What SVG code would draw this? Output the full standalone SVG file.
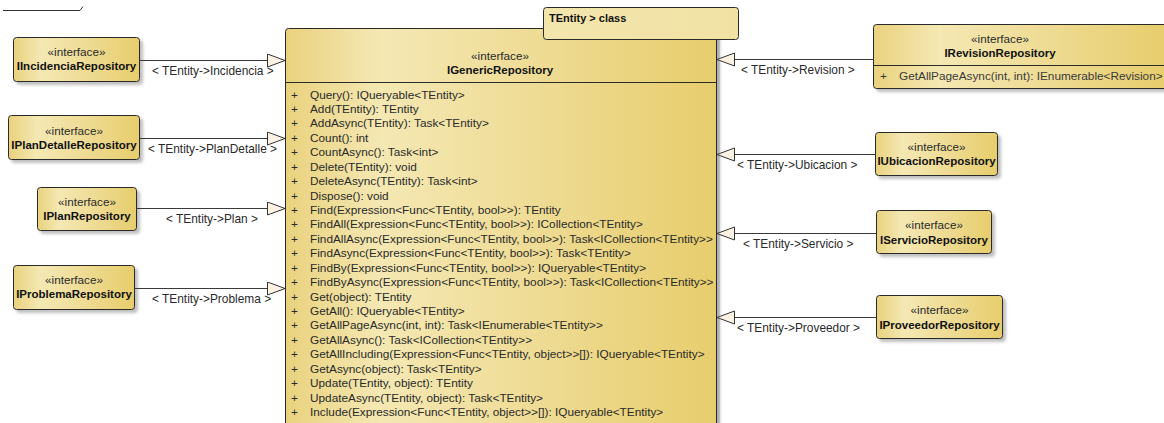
<svg xmlns="http://www.w3.org/2000/svg" width="1164" height="423" viewBox="0 0 1164 423">
  <defs>
    <linearGradient id="gold" x1="0" y1="0" x2="1" y2="0">
      <stop offset="0" stop-color="#e9d27e"/>
      <stop offset="0.22" stop-color="#f4e8b3"/>
      <stop offset="0.6" stop-color="#eedb93"/>
      <stop offset="1" stop-color="#e7cd6c"/>
    </linearGradient>
    <linearGradient id="pale" x1="0" y1="0" x2="1" y2="0">
      <stop offset="0" stop-color="#f3e6ad"/>
      <stop offset="1" stop-color="#f1e2a4"/>
    </linearGradient>
    <filter id="shadow" x="-10%" y="-10%" width="130%" height="140%">
      <feDropShadow dx="3" dy="3" stdDeviation="1.5" flood-color="#8a8a8a" flood-opacity="0.55"/>
    </filter>
    <marker id="realize" markerUnits="userSpaceOnUse" markerWidth="20" markerHeight="16" refX="18" refY="7" orient="auto">
      <path d="M0.5,0.5 L18,7 L0.5,13.5 Z" fill="#fcf2e4" stroke="#333" stroke-width="1"/>
    </marker>
    <style>
      text { font-family: "Liberation Sans", Arial, sans-serif; fill: #2a2a2a; }
      .node { fill: url(#gold); stroke: #2b2b2b; stroke-width: 1; filter: url(#shadow); }
      .st { font-size: 11.7px; text-anchor: middle; }
      .nm { font-size: 11.5px; font-weight: bold; text-anchor: middle; fill: #111; }
      .op { font-size: 11.8px; fill: #3a3a3a; }
      .lbl { font-size: 11.9px; fill: #2a2a2a; }
      .edge { stroke: #3a3a3a; stroke-width: 1; fill: none; marker-end: url(#realize); }
      .sep { stroke: #2b2b2b; stroke-width: 1; }
    </style>
  </defs>

  <!-- frame corner -->
  <path d="M3,10.5 H80 L83,6.5" fill="none" stroke="#333" stroke-width="1"/>

  <!-- generic repository interface -->
  <g id="IGenericRepository">
    <rect x="716" y="30" width="4" height="400" fill="#d3d7df"/>
    <path class="node" d="M285.5,438 V31.5 Q285.5,28.5 288.5,28.5 H713 Q716.5,28.5 716.5,31.5 V438 Z"/>
    <line class="sep" x1="285.5" y1="82.5" x2="716.5" y2="82.5"/>
    <text class="st" x="500" y="60">«interface»</text>
    <text class="nm" x="500" y="74">IGenericRepository</text>
    <g class="op">
      <text x="291" y="98.5">+</text><text x="310" y="98.5">Query(): IQueryable&lt;TEntity&gt;</text>
      <text x="291" y="113">+</text><text x="310" y="113">Add(TEntity): TEntity</text>
      <text x="291" y="127.4">+</text><text x="310" y="127.4">AddAsync(TEntity): Task&lt;TEntity&gt;</text>
      <text x="291" y="141.8">+</text><text x="310" y="141.8">Count(): int</text>
      <text x="291" y="156.2">+</text><text x="310" y="156.2">CountAsync(): Task&lt;int&gt;</text>
      <text x="291" y="170.6">+</text><text x="310" y="170.6">Delete(TEntity): void</text>
      <text x="291" y="185">+</text><text x="310" y="185">DeleteAsync(TEntity): Task&lt;int&gt;</text>
      <text x="291" y="199.5">+</text><text x="310" y="199.5">Dispose(): void</text>
      <text x="291" y="214">+</text><text x="310" y="214">Find(Expression&lt;Func&lt;TEntity, bool&gt;&gt;): TEntity</text>
      <text x="291" y="228.4">+</text><text x="310" y="228.4">FindAll(Expression&lt;Func&lt;TEntity, bool&gt;&gt;): ICollection&lt;TEntity&gt;</text>
      <text x="291" y="242.8">+</text><text x="310" y="242.8">FindAllAsync(Expression&lt;Func&lt;TEntity, bool&gt;&gt;): Task&lt;ICollection&lt;TEntity&gt;&gt;</text>
      <text x="291" y="257.2">+</text><text x="310" y="257.2">FindAsync(Expression&lt;Func&lt;TEntity, bool&gt;&gt;): Task&lt;TEntity&gt;</text>
      <text x="291" y="271.6">+</text><text x="310" y="271.6">FindBy(Expression&lt;Func&lt;TEntity, bool&gt;&gt;): IQueryable&lt;TEntity&gt;</text>
      <text x="291" y="286">+</text><text x="310" y="286">FindByAsync(Expression&lt;Func&lt;TEntity, bool&gt;&gt;): Task&lt;ICollection&lt;TEntity&gt;&gt;</text>
      <text x="291" y="300.5">+</text><text x="310" y="300.5">Get(object): TEntity</text>
      <text x="291" y="315">+</text><text x="310" y="315">GetAll(): IQueryable&lt;TEntity&gt;</text>
      <text x="291" y="329.4">+</text><text x="310" y="329.4">GetAllPageAsync(int, int): Task&lt;IEnumerable&lt;TEntity&gt;&gt;</text>
      <text x="291" y="343.8">+</text><text x="310" y="343.8">GetAllAsync(): Task&lt;ICollection&lt;TEntity&gt;&gt;</text>
      <text x="291" y="358.2">+</text><text x="310" y="358.2">GetAllIncluding(Expression&lt;Func&lt;TEntity, object&gt;&gt;[]): IQueryable&lt;TEntity&gt;</text>
      <text x="291" y="372.6">+</text><text x="310" y="372.6">GetAsync(object): Task&lt;TEntity&gt;</text>
      <text x="291" y="387">+</text><text x="310" y="387">Update(TEntity, object): TEntity</text>
      <text x="291" y="401.5">+</text><text x="310" y="401.5">UpdateAsync(TEntity, object): Task&lt;TEntity&gt;</text>
      <text x="291" y="416">+</text><text x="310" y="416">Include(Expression&lt;Func&lt;TEntity, object&gt;&gt;[]): IQueryable&lt;TEntity&gt;</text>
    </g>
  </g>

  <!-- template parameter box -->
  <g id="TemplateParameter">
    <rect x="543.5" y="7.5" width="195" height="32" rx="3" fill="url(#pale)" stroke="#2b2b2b" stroke-width="1"/>
    <text x="549" y="21.5" style="font-size:11px;font-weight:bold;fill:#111">TEntity &gt; class</text>
  </g>

  <!-- left-hand repositories -->
  <g id="IIncidenciaRepository">
    <rect class="node" x="13.5" y="37.5" width="126" height="44" rx="3"/>
    <text class="st" x="76.5" y="56">«interface»</text>
    <text class="nm" x="76.5" y="70">IIncidenciaRepository</text>
  </g>
  <g id="IPlanDetalleRepository">
    <rect class="node" x="8.5" y="115.5" width="131" height="44" rx="3"/>
    <text class="st" x="74" y="135">«interface»</text>
    <text class="nm" x="74" y="148.5">IPlanDetalleRepository</text>
  </g>
  <g id="IPlanRepository">
    <rect class="node" x="37.5" y="187.5" width="99" height="43" rx="3"/>
    <text class="st" x="87" y="206">«interface»</text>
    <text class="nm" x="87" y="220">IPlanRepository</text>
  </g>
  <g id="IProblemaRepository">
    <rect class="node" x="13.5" y="265.5" width="121" height="44" rx="3"/>
    <text class="st" x="74" y="284">«interface»</text>
    <text class="nm" x="74" y="298">IProblemaRepository</text>
  </g>

  <!-- right-hand repositories -->
  <g id="IRevisionRepository">
    <rect class="node" x="873.5" y="24.5" width="294" height="64" rx="3"/>
    <line class="sep" x1="873.5" y1="65.5" x2="1167" y2="65.5"/>
    <text class="st" x="1000" y="42.5">«interface»</text>
    <text class="nm" x="1000" y="57">IRevisionRepository</text>
    <text class="op" x="880" y="80">+</text>
    <text class="op" x="899" y="80">GetAllPageAsync(int, int): IEnumerable&lt;Revision&gt;</text>
  </g>
  <g id="IUbicacionRepository">
    <rect class="node" x="875.5" y="132.5" width="122" height="43" rx="3"/>
    <text class="st" x="936.5" y="150.5">«interface»</text>
    <text class="nm" x="936.5" y="165">IUbicacionRepository</text>
  </g>
  <g id="IServicioRepository">
    <rect class="node" x="876.5" y="210.5" width="115" height="43" rx="3"/>
    <text class="st" x="934" y="229">«interface»</text>
    <text class="nm" x="934" y="243.5">IServicioRepository</text>
  </g>
  <g id="IProveedorRepository">
    <rect class="node" x="876.5" y="295.5" width="126" height="43" rx="3"/>
    <text class="st" x="939.5" y="314">«interface»</text>
    <text class="nm" x="939.5" y="328.5">IProveedorRepository</text>
  </g>

  <!-- realization connectors -->
  <g id="connectors">
    <line class="edge" x1="139.5" y1="60.5" x2="285" y2="60.5"/>
    <line class="edge" x1="139.5" y1="138.5" x2="285" y2="138.5"/>
    <line class="edge" x1="136.5" y1="208.5" x2="285" y2="208.5"/>
    <line class="edge" x1="134.5" y1="288.5" x2="285" y2="288.5"/>
    <line class="edge" x1="873.5" y1="59.5" x2="717" y2="59.5"/>
    <line class="edge" x1="875.5" y1="154.5" x2="717" y2="154.5"/>
    <line class="edge" x1="876.5" y1="233.5" x2="717" y2="233.5"/>
    <line class="edge" x1="876.5" y1="317.5" x2="717" y2="317.5"/>
    <text class="lbl" x="152" y="75">&lt; TEntity-&gt;Incidencia &gt;</text>
    <text class="lbl" x="148" y="153">&lt; TEntity-&gt;PlanDetalle &gt;</text>
    <text class="lbl" x="166" y="223">&lt; TEntity-&gt;Plan &gt;</text>
    <text class="lbl" x="152" y="303">&lt; TEntity-&gt;Problema &gt;</text>
    <text class="lbl" x="741" y="73.5">&lt; TEntity-&gt;Revision &gt;</text>
    <text class="lbl" x="737" y="168.5">&lt; TEntity-&gt;Ubicacion &gt;</text>
    <text class="lbl" x="743" y="248">&lt; TEntity-&gt;Servicio &gt;</text>
    <text class="lbl" x="737" y="332">&lt; TEntity-&gt;Proveedor &gt;</text>
  </g>
</svg>
